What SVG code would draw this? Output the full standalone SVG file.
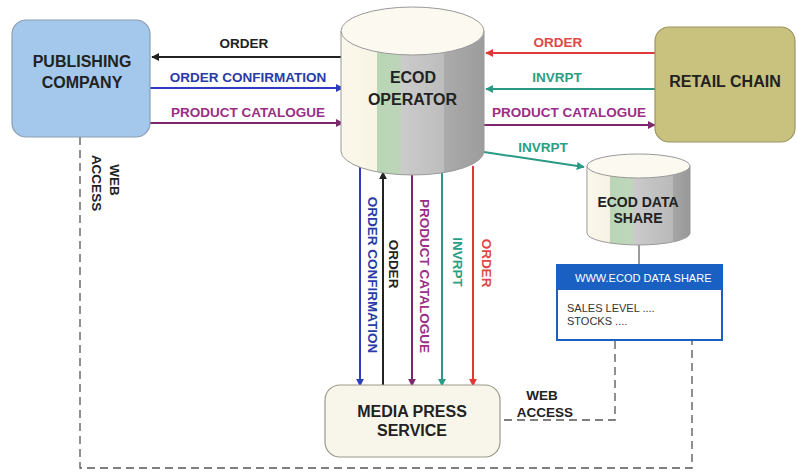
<svg xmlns="http://www.w3.org/2000/svg" width="797" height="472" viewBox="0 0 797 472">
<defs>
<style>
.lbl{font-family:"Liberation Sans",Arial,sans-serif;font-weight:bold;font-size:13.5px;text-anchor:middle}
.node{font-family:"Liberation Sans",Arial,sans-serif;font-weight:bold;font-size:16px;text-anchor:middle;fill:#222}
.web{font-family:"Liberation Sans",Arial,sans-serif;font-size:11px}
.dash{fill:none;stroke:#555;stroke-width:1.3;stroke-dasharray:8 5}
.ln{fill:none;stroke-width:2}
</style>
<linearGradient id="cylA" x1="0" y1="0" x2="1" y2="0">
<stop offset="0" stop-color="#fbf8ec"/>
<stop offset="0.25" stop-color="#f8f4e4"/>
<stop offset="0.252" stop-color="#b9d6b6"/>
<stop offset="0.42" stop-color="#bcd4b8"/>
<stop offset="0.422" stop-color="#cbcbcb"/>
<stop offset="0.72" stop-color="#bdbdbd"/>
<stop offset="0.722" stop-color="#ababab"/>
<stop offset="1" stop-color="#9c9c9c"/>
</linearGradient>
<linearGradient id="cylB" x1="0" y1="0" x2="1" y2="0">
<stop offset="0" stop-color="#fbf8ec"/>
<stop offset="0.22" stop-color="#f6f2e4"/>
<stop offset="0.223" stop-color="#b9d6b6"/>
<stop offset="0.445" stop-color="#c0d6bc"/>
<stop offset="0.447" stop-color="#cbcbcb"/>
<stop offset="0.83" stop-color="#bababa"/>
<stop offset="0.835" stop-color="#a6a6a6"/>
<stop offset="1" stop-color="#989898"/>
</linearGradient>
<marker id="aK" viewBox="0 0 10 10" refX="9" refY="5" markerWidth="8" markerHeight="8" markerUnits="userSpaceOnUse" orient="auto"><path d="M0,0 L10,5 L0,10 z" fill="#222"/></marker>
<marker id="aB" viewBox="0 0 10 10" refX="9" refY="5" markerWidth="8" markerHeight="8" markerUnits="userSpaceOnUse" orient="auto"><path d="M0,0 L10,5 L0,10 z" fill="#2c3cc0"/></marker>
<marker id="aP" viewBox="0 0 10 10" refX="9" refY="5" markerWidth="8" markerHeight="8" markerUnits="userSpaceOnUse" orient="auto"><path d="M0,0 L10,5 L0,10 z" fill="#7d2a6c"/></marker>
<marker id="aR" viewBox="0 0 10 10" refX="9" refY="5" markerWidth="8" markerHeight="8" markerUnits="userSpaceOnUse" orient="auto"><path d="M0,0 L10,5 L0,10 z" fill="#e03838"/></marker>
<marker id="aT" viewBox="0 0 10 10" refX="9" refY="5" markerWidth="8" markerHeight="8" markerUnits="userSpaceOnUse" orient="auto"><path d="M0,0 L10,5 L0,10 z" fill="#2a9a84"/></marker>
</defs>
<rect width="797" height="472" fill="#ffffff"/>

<g id="connectors">
<!-- left side horizontal -->
<line class="ln" x1="341" y1="57" x2="152" y2="57" stroke="#222" marker-end="url(#aK)"/>
<line class="ln" x1="150" y1="88" x2="343" y2="88" stroke="#2c3cc0" marker-end="url(#aB)"/>
<line class="ln" x1="150" y1="123" x2="343" y2="123" stroke="#7d2a6c" marker-end="url(#aP)"/>
<!-- right side horizontal -->
<line class="ln" x1="655" y1="53" x2="486" y2="53" stroke="#e03838" marker-end="url(#aR)"/>
<line class="ln" x1="655" y1="89" x2="486" y2="89" stroke="#2a9a84" marker-end="url(#aT)"/>
<line class="ln" x1="484" y1="125" x2="655" y2="125" stroke="#7d2a6c" marker-end="url(#aP)"/>
<line class="ln" x1="484" y1="152" x2="584" y2="167" stroke="#2a9a84" marker-end="url(#aT)"/>
<!-- vertical -->
<line class="ln" x1="360" y1="167" x2="360" y2="386" stroke="#2c3cc0" marker-end="url(#aB)"/>
<line class="ln" x1="383" y1="386" x2="383" y2="172" stroke="#222" marker-end="url(#aK)"/>
<line class="ln" x1="412" y1="175" x2="412" y2="386" stroke="#7d2a6c" marker-end="url(#aP)"/>
<line class="ln" x1="442" y1="173" x2="442" y2="386" stroke="#2a9a84" marker-end="url(#aT)"/>
<line class="ln" x1="473" y1="166" x2="473" y2="386" stroke="#e03838" marker-end="url(#aR)"/>
<!-- data share to web box -->
<line x1="639" y1="245" x2="639" y2="265" stroke="#666" stroke-width="1.3"/>
<!-- dashed web access -->
<polyline class="dash" points="615,341 615,420 500,420"/>
<polyline class="dash" points="80,137 80,468 692,468 692,341"/>

<text class="lbl" x="244" y="48" fill="#222">ORDER</text>
<text class="lbl" x="248" y="82" fill="#2a3aa8">ORDER CONFIRMATION</text>
<text class="lbl" x="248" y="117" fill="#9b2d86">PRODUCT CATALOGUE</text>
<text class="lbl" x="558" y="47" fill="#e04848">ORDER</text>
<text class="lbl" x="557" y="82" fill="#2a9e84">INVRPT</text>
<text class="lbl" x="569" y="117" fill="#9b2d86">PRODUCT CATALOGUE</text>
<text class="lbl" x="543" y="152" fill="#2a9e84">INVRPT</text>
<text class="lbl" transform="translate(368,275) rotate(90)" fill="#2a3aa8">ORDER CONFIRMATION</text>
<text class="lbl" transform="translate(389,264) rotate(90)" fill="#222">ORDER</text>
<text class="lbl" transform="translate(420,276) rotate(90)" fill="#9b2d86">PRODUCT CATALOGUE</text>
<text class="lbl" transform="translate(453,262) rotate(90)" fill="#2a9e84">INVRPT</text>
<text class="lbl" transform="translate(482,263) rotate(90)" fill="#e04848">ORDER</text>
<text class="lbl" transform="translate(110,180) rotate(90)" fill="#222">WEB</text>
<text class="lbl" transform="translate(92,183) rotate(90)" fill="#222">ACCESS</text>
<text class="lbl" x="542" y="400" fill="#222">WEB</text>
<text class="lbl" x="545" y="417" fill="#222">ACCESS</text>
</g>

<g id="publishing-company">
<rect x="12" y="20" width="138" height="117" rx="14" fill="#a3c8ec" stroke="#8d9db2" stroke-width="1.2"/>
<text class="node" x="82" y="67">PUBLISHING</text>
<text class="node" x="82" y="88">COMPANY</text>
</g>

<g id="ecod-operator">
<path d="M341,31 L341,151 A71.5,24 0 0 0 484,151 L484,31 Z" fill="url(#cylA)" stroke="#999" stroke-width="1"/>
<ellipse cx="412.5" cy="31" rx="71.5" ry="24" fill="#fcfaf0" stroke="#999" stroke-width="1"/>
<text class="node" x="413" y="83">ECOD</text>
<text class="node" x="412.5" y="105">OPERATOR</text>
</g>

<g id="retail-chain">
<rect x="655" y="27" width="140" height="115" rx="14" fill="#c9c17e" stroke="#9d9565" stroke-width="1.2"/>
<text class="node" x="725" y="87">RETAIL CHAIN</text>
</g>

<g id="ecod-data-share">
<path d="M587,166 L587,233 A51.5,12 0 0 0 690,233 L690,166 Z" fill="url(#cylB)" stroke="#999" stroke-width="1"/>
<ellipse cx="638.5" cy="166" rx="51.5" ry="12" fill="#fcfaf0" stroke="#999" stroke-width="1"/>
<text class="node" style="font-size:14px" x="638" y="207">ECOD DATA</text>
<text class="node" style="font-size:14px" x="638" y="223">SHARE</text>
</g>

<g id="web-data-share">
<rect x="557" y="265" width="165" height="75" fill="#ffffff" stroke="#1a60c2" stroke-width="2"/>
<rect x="557" y="265" width="165" height="25" fill="#1a60c2"/>
<text class="web" x="575" y="282" fill="#ffffff">WWW.ECOD DATA SHARE</text>
<text class="web" x="567" y="312" fill="#333">SALES LEVEL ....</text>
<text class="web" x="567" y="325" fill="#333">STOCKS ....</text>
</g>

<g id="media-press-service">
<rect x="325" y="385" width="175" height="72" rx="15" fill="#f8f6ea" stroke="#9a9a8a" stroke-width="1.2"/>
<text class="node" x="412" y="417">MEDIA PRESS</text>
<text class="node" x="412" y="436">SERVICE</text>
</g>
</svg>
